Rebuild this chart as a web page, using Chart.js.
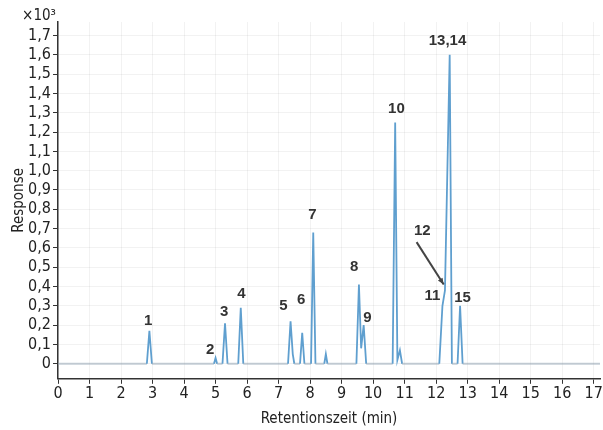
<!DOCTYPE html>
<html>
<head>
<meta charset="utf-8">
<script src="https://cdn.jsdelivr.net/npm/chart.js@4"></script>
<style>
html,body{margin:0;padding:0;background:#fff;}
#wrap{width:603px;height:430px;}
</style>
</head>
<body>
<div id="wrap"><canvas id="c" width="603" height="430"></canvas></div>
<script>
// Retention time (min) and response (x10^3)
const retentionTimes = [0, 2.82, 2.9, 2.98, 4.95, 5.0, 5.05, 5.22, 5.3, 5.38, 5.72, 5.8, 5.88,
  7.3, 7.38, 7.45, 7.5, 7.68, 7.75, 7.82, 8.03, 8.1, 8.17, 8.45, 8.5, 8.55,
  9.47, 9.55, 9.62, 9.7, 9.78, 10.62, 10.7, 10.77, 10.85, 10.92,
  12.1, 12.2, 12.28, 12.43, 12.5, 12.68, 12.76, 12.84, 17.2];
const responses = [0, 0, 0.17, 0, 0, 0.03, 0, 0, 0.21, 0, 0, 0.29, 0,
  0, 0.22, 0.05, 0, 0, 0.16, 0, 0, 0.68, 0, 0, 0.05, 0,
  0, 0.41, 0.08, 0.2, 0, 0, 1.25, 0.02, 0.07, 0,
  0, 0.3, 0.38, 1.6, 0, 0, 0.3, 0, 0];

// Peak labels: text, label time, label response
const peakLabels = ['1','2','3','4','5','6','7','8','9','10','11','12','13,14','15'];
const peakLabelTimes = [2.86, 4.83, 5.27, 5.82, 7.15, 7.72, 8.07, 9.4, 9.82, 10.74, 11.88, 11.56, 12.36, 12.84];
const peakLabelResponses = [0.22, 0.07, 0.27, 0.36, 0.30, 0.33, 0.77, 0.50, 0.24, 1.32, 0.35, 0.69, 1.67, 0.34];

// Arrow from label 12 to its peak
const arrowFrom = [11.38, 0.63];
const arrowTo = [12.24, 0.41];

const yTickValues = [0,0.1,0.2,0.3,0.4,0.5,0.6,0.7,0.8,0.9,1.0,1.1,1.2,1.3,1.4,1.5,1.6,1.7];
const yTickLabels = ['0','0,1','0,2','0,3','0,4','0,5','0,6','0,7','0,8','0,9','1,0','1,1','1,2','1,3','1,4','1,5','1,6','1,7'];
const xTickValues = [0,1,2,3,4,5,6,7,8,9,10,11,12,13,14,15,16,17];

const FONT = '"DejaVu Sans Condensed", "Liberation Sans", sans-serif';

const points = retentionTimes.map((t, i) => ({x: t, y: responses[i]}));

const labelPlugin = {
  id: 'peakLabels',
  afterDatasetsDraw(chart) {
    const {ctx, scales: {x, y}, chartArea} = chart;
    ctx.save();
    ctx.fillStyle = '#333';
    ctx.font = 'bold 15px "Liberation Sans", Arial, sans-serif';
    ctx.textAlign = 'center';
    ctx.textBaseline = 'middle';
    peakLabels.forEach((lab, i) => {
      ctx.fillText(lab, x.getPixelForValue(peakLabelTimes[i]), y.getPixelForValue(peakLabelResponses[i]));
    });
    const x1 = x.getPixelForValue(arrowFrom[0]), y1 = y.getPixelForValue(arrowFrom[1]);
    const x2 = x.getPixelForValue(arrowTo[0]), y2 = y.getPixelForValue(arrowTo[1]);
    ctx.strokeStyle = '#444';
    ctx.lineWidth = 2;
    ctx.beginPath(); ctx.moveTo(x1, y1); ctx.lineTo(x2, y2); ctx.stroke();
    const ang = Math.atan2(y2 - y1, x2 - x1);
    ctx.fillStyle = '#444';
    ctx.beginPath();
    ctx.moveTo(x2, y2);
    ctx.lineTo(x2 - 7*Math.cos(ang - 0.4), y2 - 7*Math.sin(ang - 0.4));
    ctx.lineTo(x2 - 7*Math.cos(ang + 0.4), y2 - 7*Math.sin(ang + 0.4));
    ctx.closePath(); ctx.fill();
    ctx.fillStyle = '#222';
    ctx.font = '15px ' + FONT;
    ctx.textAlign = 'right';
    ctx.textBaseline = 'alphabetic';
    ctx.fillText('×10³', chartArea.left - 2, chartArea.top - 2);
    ctx.restore();
  }
};

new Chart(document.getElementById('c'), {
  type: 'line',
  data: {
    datasets: [{
      data: points,
      borderColor: '#5f9fcf',
      borderWidth: 1.8,
      pointRadius: 0,
      tension: 0,
      fill: false,
      segment: {
        borderColor: (ctx) => (ctx.p0.parsed.y === 0 && ctx.p1.parsed.y === 0) ? 'rgba(150,165,180,0.55)' : '#5f9fcf'
      }
    }]
  },
  options: {
    responsive: false,
    animation: false,
    layout: {padding: {top: 22, right: 3, left: 0, bottom: 0}},
    plugins: {legend: {display: false}, tooltip: {enabled: false}},
    scales: {
      x: {
        type: 'linear',
        min: 0, max: 17.2,
        afterBuildTicks: (s) => { s.ticks = xTickValues.map(v => ({value: v})); },
        ticks: {color: '#222', font: {family: FONT, size: 16}, padding: 0, maxRotation: 0, autoSkip: false,
          callback: (v) => String(v)},
        grid: {color: 'rgba(0,0,0,0.05)', tickColor: '#333', tickLength: 5, drawOnChartArea: true},
        border: {color: '#333', width: 1.5},
        title: {display: true, text: 'Retentionszeit (min)', color: '#222', font: {family: FONT, size: 15}, padding: {top: 7, bottom: 2}}
      },
      y: {
        type: 'linear',
        min: -0.078, max: 1.77,
        afterBuildTicks: (s) => { s.ticks = yTickValues.map(v => ({value: v})); },
        ticks: {color: '#222', font: {family: FONT, size: 16}, padding: 2, autoSkip: false,
          callback: (v) => { const i = yTickValues.findIndex(t => Math.abs(t - v) < 1e-6); return i >= 0 ? yTickLabels[i] : ''; }},
        grid: {color: 'rgba(0,0,0,0.05)', tickColor: '#333', tickLength: 5, drawOnChartArea: true},
        border: {color: '#333', width: 1.5},
        title: {display: true, text: 'Response', color: '#222', font: {family: FONT, size: 15}, padding: {top: 10, bottom: 4}},
        afterFit: (s) => { s.width = 58; }
      }
    }
  },
  plugins: [labelPlugin]
});
</script>
</body>
</html>
